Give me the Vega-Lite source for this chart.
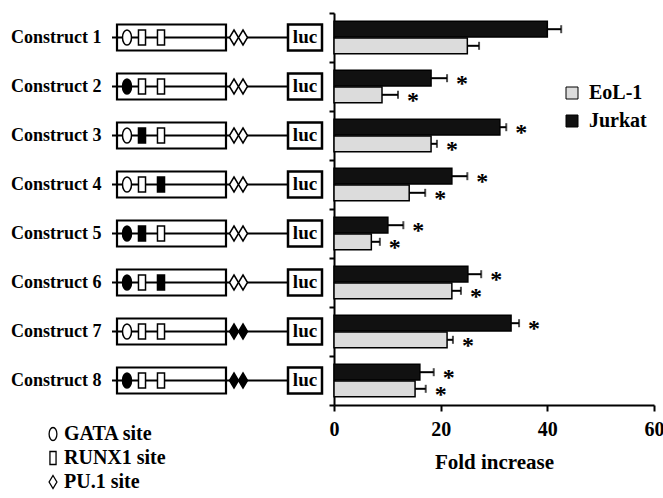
{
  "$schema": "https://vega.github.io/schema/vega-lite/v6.json",
  "padding": {"left": 10, "top": 12, "right": 0, "bottom": 0},
  "background": "white",
  "config": {
    "view": {"stroke": null},
    "font": "Liberation Serif",
    "axis": {"labelFont": "Liberation Serif", "titleFont": "Liberation Serif", "labelFontWeight": "bold", "titleFontWeight": "bold", "labelColor": "black", "titleColor": "black", "domainColor": "black", "tickColor": "black", "grid": false},
    "legend": {"labelFont": "Liberation Serif", "labelFontWeight": "bold", "labelColor": "black", "padding": 0}
  },
  "datasets": {
    "constructs": [
      {"construct": "Construct 1"}, {"construct": "Construct 2"}, {"construct": "Construct 3"}, {"construct": "Construct 4"},
      {"construct": "Construct 5"}, {"construct": "Construct 6"}, {"construct": "Construct 7"}, {"construct": "Construct 8"}
    ],
    "sites": [
      {"construct": "Construct 1", "site": "GATA site", "pos": 20, "filled": "no"},
      {"construct": "Construct 1", "site": "RUNX1 site", "pos": 35, "filled": "no"},
      {"construct": "Construct 1", "site": "RUNX1 site", "pos": 54, "filled": "no"},
      {"construct": "Construct 1", "site": "PU.1 site", "pos": 127, "filled": "no"},
      {"construct": "Construct 1", "site": "PU.1 site", "pos": 136, "filled": "no"},
      {"construct": "Construct 2", "site": "GATA site", "pos": 20, "filled": "yes"},
      {"construct": "Construct 2", "site": "RUNX1 site", "pos": 35, "filled": "no"},
      {"construct": "Construct 2", "site": "RUNX1 site", "pos": 54, "filled": "no"},
      {"construct": "Construct 2", "site": "PU.1 site", "pos": 127, "filled": "no"},
      {"construct": "Construct 2", "site": "PU.1 site", "pos": 136, "filled": "no"},
      {"construct": "Construct 3", "site": "GATA site", "pos": 20, "filled": "no"},
      {"construct": "Construct 3", "site": "RUNX1 site", "pos": 35, "filled": "yes"},
      {"construct": "Construct 3", "site": "RUNX1 site", "pos": 54, "filled": "no"},
      {"construct": "Construct 3", "site": "PU.1 site", "pos": 127, "filled": "no"},
      {"construct": "Construct 3", "site": "PU.1 site", "pos": 136, "filled": "no"},
      {"construct": "Construct 4", "site": "GATA site", "pos": 20, "filled": "no"},
      {"construct": "Construct 4", "site": "RUNX1 site", "pos": 35, "filled": "no"},
      {"construct": "Construct 4", "site": "RUNX1 site", "pos": 54, "filled": "yes"},
      {"construct": "Construct 4", "site": "PU.1 site", "pos": 127, "filled": "no"},
      {"construct": "Construct 4", "site": "PU.1 site", "pos": 136, "filled": "no"},
      {"construct": "Construct 5", "site": "GATA site", "pos": 20, "filled": "yes"},
      {"construct": "Construct 5", "site": "RUNX1 site", "pos": 35, "filled": "yes"},
      {"construct": "Construct 5", "site": "RUNX1 site", "pos": 54, "filled": "no"},
      {"construct": "Construct 5", "site": "PU.1 site", "pos": 127, "filled": "no"},
      {"construct": "Construct 5", "site": "PU.1 site", "pos": 136, "filled": "no"},
      {"construct": "Construct 6", "site": "GATA site", "pos": 20, "filled": "yes"},
      {"construct": "Construct 6", "site": "RUNX1 site", "pos": 35, "filled": "no"},
      {"construct": "Construct 6", "site": "RUNX1 site", "pos": 54, "filled": "yes"},
      {"construct": "Construct 6", "site": "PU.1 site", "pos": 127, "filled": "no"},
      {"construct": "Construct 6", "site": "PU.1 site", "pos": 136, "filled": "no"},
      {"construct": "Construct 7", "site": "GATA site", "pos": 20, "filled": "no"},
      {"construct": "Construct 7", "site": "RUNX1 site", "pos": 35, "filled": "no"},
      {"construct": "Construct 7", "site": "RUNX1 site", "pos": 54, "filled": "no"},
      {"construct": "Construct 7", "site": "PU.1 site", "pos": 127, "filled": "yes"},
      {"construct": "Construct 7", "site": "PU.1 site", "pos": 136, "filled": "yes"},
      {"construct": "Construct 8", "site": "GATA site", "pos": 20, "filled": "yes"},
      {"construct": "Construct 8", "site": "RUNX1 site", "pos": 35, "filled": "no"},
      {"construct": "Construct 8", "site": "RUNX1 site", "pos": 54, "filled": "no"},
      {"construct": "Construct 8", "site": "PU.1 site", "pos": 127, "filled": "yes"},
      {"construct": "Construct 8", "site": "PU.1 site", "pos": 136, "filled": "yes"}
    ],
    "bars": [
      {"construct": "Construct 1", "cell": "Jurkat", "fold": 40.0, "err": 42.6, "sig": ""},
      {"construct": "Construct 1", "cell": "EoL-1", "fold": 25.0, "err": 27.2, "sig": ""},
      {"construct": "Construct 2", "cell": "Jurkat", "fold": 18.2, "err": 21.2, "sig": "*"},
      {"construct": "Construct 2", "cell": "EoL-1", "fold": 9.0, "err": 12.0, "sig": "*"},
      {"construct": "Construct 3", "cell": "Jurkat", "fold": 31.1, "err": 32.3, "sig": "*"},
      {"construct": "Construct 3", "cell": "EoL-1", "fold": 18.2, "err": 19.3, "sig": "*"},
      {"construct": "Construct 4", "cell": "Jurkat", "fold": 22.1, "err": 25.0, "sig": "*"},
      {"construct": "Construct 4", "cell": "EoL-1", "fold": 14.1, "err": 17.1, "sig": "*"},
      {"construct": "Construct 5", "cell": "Jurkat", "fold": 10.1, "err": 13.0, "sig": "*"},
      {"construct": "Construct 5", "cell": "EoL-1", "fold": 7.0, "err": 8.6, "sig": "*"},
      {"construct": "Construct 6", "cell": "Jurkat", "fold": 25.1, "err": 27.6, "sig": "*"},
      {"construct": "Construct 6", "cell": "EoL-1", "fold": 22.1, "err": 23.8, "sig": "*"},
      {"construct": "Construct 7", "cell": "Jurkat", "fold": 33.2, "err": 34.7, "sig": "*"},
      {"construct": "Construct 7", "cell": "EoL-1", "fold": 21.2, "err": 22.3, "sig": "*"},
      {"construct": "Construct 8", "cell": "Jurkat", "fold": 16.1, "err": 18.7, "sig": "*"},
      {"construct": "Construct 8", "cell": "EoL-1", "fold": 15.2, "err": 17.2, "sig": "*"}
    ]
  },
  "spacing": 4,
  "hconcat": [
    {
      "width": 217,
      "height": 392,
      "encoding": {
        "y": {"field": "construct", "type": "nominal", "scale": {"paddingInner": 0, "paddingOuter": 0},
              "axis": {"title": null, "domain": false, "ticks": false, "labelFontSize": 18, "labelPadding": 6}}
      },
      "layer": [
        {
          "data": {"name": "constructs"},
          "mark": {"type": "rule", "strokeWidth": 2, "color": "black"},
          "encoding": {
            "x": {"datum": 5, "type": "quantitative", "scale": {"domain": [0, 217], "nice": false, "zero": false}, "axis": null},
            "x2": {"datum": 181}
          }
        },
        {
          "data": {"name": "constructs"},
          "mark": {"type": "bar", "filled": false, "stroke": "black", "strokeWidth": 2.2, "height": 26},
          "encoding": {"x": {"datum": 10, "type": "quantitative"}, "x2": {"datum": 119}}
        },
        {
          "data": {"name": "constructs"},
          "mark": {"type": "bar", "fill": "white", "stroke": "black", "strokeWidth": 2.5, "height": 26},
          "encoding": {"x": {"datum": 181, "type": "quantitative"}, "x2": {"datum": 215}}
        },
        {
          "data": {"name": "constructs"},
          "mark": {"type": "text", "text": "luc", "font": "Liberation Serif", "fontWeight": "bold", "fontSize": 19, "color": "black", "baseline": "middle", "dy": -1},
          "encoding": {"x": {"datum": 198, "type": "quantitative"}}
        },
        {
          "data": {"name": "sites"},
          "mark": {"type": "point", "filled": true, "stroke": "black", "strokeWidth": 1.5, "size": 225, "opacity": 1},
          "encoding": {
            "x": {"field": "pos", "type": "quantitative"},
            "shape": {"field": "site", "type": "nominal",
              "scale": {"domain": ["GATA site", "RUNX1 site", "PU.1 site"],
                        "range": ["M0,-1A0.6,1 0 1,1 0,1A0.6,1 0 1,1 0,-1Z", "M-0.47,-1H0.47V1H-0.47Z", "M0,-1L0.6,0L0,1L-0.6,0Z"]},
              "legend": {"title": null, "orient": "none", "legendX": -64, "legendY": 411, "symbolSize": 169, "symbolFillColor": "white", "symbolStrokeColor": "black", "symbolStrokeWidth": 1.3, "labelFontSize": 20, "labelOffset": 1, "rowPadding": 4}},
            "fill": {"field": "filled", "type": "nominal", "scale": {"domain": ["no", "yes"], "range": ["white", "black"]}, "legend": null}
          }
        }
      ]
    },
    {
      "width": 320,
      "height": 392,
      "data": {"name": "bars"},
      "encoding": {
        "y": {"field": "construct", "type": "nominal", "scale": {"paddingInner": 0, "paddingOuter": 0},
              "axis": {"labels": false, "title": null, "tickBand": "extent", "tickSize": 5, "tickWidth": 2, "domainWidth": 2}},
        "yOffset": {"field": "cell", "type": "nominal", "scale": {"domain": ["Jurkat", "EoL-1"], "paddingInner": 0.05, "paddingOuter": 0.5}}
      },
      "layer": [
        {
          "mark": {"type": "bar", "stroke": "black", "strokeWidth": 1.5},
          "encoding": {
            "x": {"field": "fold", "type": "quantitative", "scale": {"domain": [0, 60], "nice": false},
                  "axis": {"title": "Fold increase", "values": [0, 20, 40, 60], "tickSize": 6, "tickWidth": 2, "domainWidth": 2, "labelFontSize": 20, "labelPadding": 8, "titleFontSize": 21, "titlePadding": 12, "labelFlush": false}},
            "color": {"field": "cell", "type": "nominal", "scale": {"domain": ["EoL-1", "Jurkat"], "range": ["#dcdcdc", "#111111"]},
                      "legend": {"title": null, "orient": "none", "legendX": 455, "legendY": 70, "symbolType": "square", "symbolSize": 144, "symbolStrokeColor": "black", "symbolStrokeWidth": 1, "labelFontSize": 20, "labelOffset": 7, "rowPadding": 8}}
          }
        },
        {
          "mark": {"type": "rule", "strokeWidth": 2, "color": "black"},
          "encoding": {"x": {"field": "fold", "type": "quantitative"}, "x2": {"field": "err"}}
        },
        {
          "mark": {"type": "tick", "thickness": 2, "size": 8, "color": "black"},
          "encoding": {"x": {"field": "err", "type": "quantitative"}}
        },
        {
          "mark": {"type": "text", "dx": 15, "dy": 6, "fontSize": 24, "fontWeight": "bold", "font": "Liberation Serif", "color": "black", "baseline": "middle", "align": "center"},
          "encoding": {"x": {"field": "err", "type": "quantitative"}, "text": {"field": "sig"}}
        }
      ]
    }
  ]
}
